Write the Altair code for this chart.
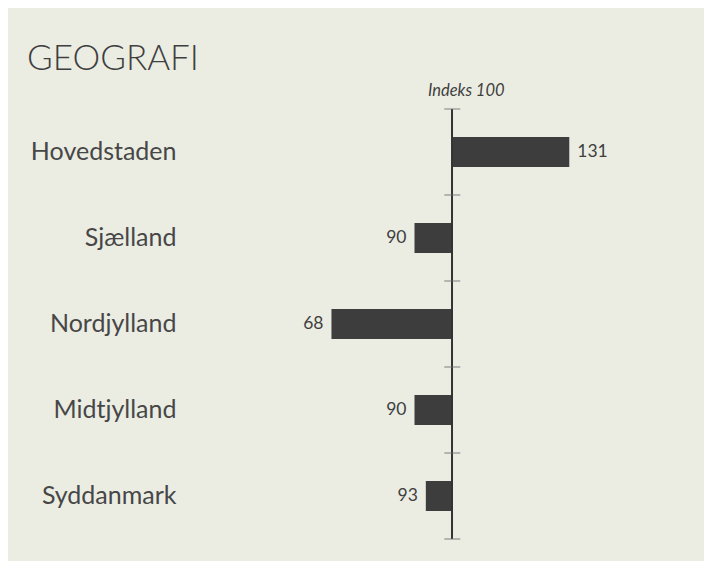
import altair as alt
import pandas as pd

regions = ["Hovedstaden", "Sjælland", "Nordjylland", "Midtjylland", "Syddanmark"]
values = [131, 90, 68, 90, 93]
baseline = 100

df = pd.DataFrame({"region": regions, "value": values})

BG = "#ebede3"
BAR = "#3d3d3d"
TXT = "#3f3f3f"
FONT = "Lato"

xscale = alt.Scale(domain=[30, 150])
yenc = alt.Y("region:N", sort=regions,
             scale=alt.Scale(paddingInner=0, paddingOuter=0),
             axis=alt.Axis(title=None, domain=False, ticks=False, labelFontSize=25,
                           labelFontWeight=400,
                           labelColor="#474747", labelFont=FONT, labelPadding=12))

base = alt.Chart(df)

bars = base.mark_bar(color=BAR, size=30).encode(
    x=alt.X("value:Q", scale=xscale, axis=None),
    x2=alt.datum(baseline),
    y=yenc,
)

rule = base.mark_rule(color="#333333", strokeWidth=1.5).encode(
    x=alt.datum(baseline, scale=xscale)
)

ticks_top = base.mark_tick(orient="horizontal", color="#6a6a6a", size=16, thickness=1.2).encode(
    x=alt.datum(baseline),
    y=alt.Y("region:N", sort=regions, bandPosition=0),
)
ticks_end = base.transform_filter(alt.datum.region == regions[-1]).mark_tick(
    orient="horizontal", color="#6a6a6a", size=16, thickness=1.2).encode(
    x=alt.datum(baseline),
    y=alt.Y("region:N", sort=regions, bandPosition=1),
)

lab_hi = base.transform_filter(alt.datum.value >= baseline).mark_text(
    align="left", baseline="middle", dx=8, fontSize=17.5, fontWeight=400,
    color=TXT, font=FONT).encode(
    x="value:Q", y=alt.Y("region:N", sort=regions), text="value:Q")
lab_lo = base.transform_filter(alt.datum.value < baseline).mark_text(
    align="right", baseline="middle", dx=-8, fontSize=17.5, fontWeight=400,
    color=TXT, font=FONT).encode(
    x="value:Q", y=alt.Y("region:N", sort=regions), text="value:Q")

indeks = alt.Chart(pd.DataFrame({"t": ["Indeks 100"]})).mark_text(
    align="center", baseline="alphabetic", fontSize=16.5, fontStyle="italic",
    color=TXT, font=FONT, dx=14).encode(
    x=alt.datum(baseline), y=alt.value(-13), text="t:N")

chart = alt.layer(bars, rule, ticks_top, ticks_end, lab_hi, lab_lo, indeks).properties(
    width=453,
    height=430,
    background=BG,
    padding={"left": 180, "top": 101, "right": 63, "bottom": 22},
    autosize=alt.AutoSizeParams(type="none"),
    title=alt.TitleParams("GEOGRAFI", anchor="start", frame="group", dx=-161, dy=60,
                          fontSize=35, font=FONT, fontWeight=300, color=TXT,
                          baseline="alphabetic", offset=38),
).configure_view(stroke=None)

chart.save("out.html", embed_options={"renderer": "svg", "actions": False})
